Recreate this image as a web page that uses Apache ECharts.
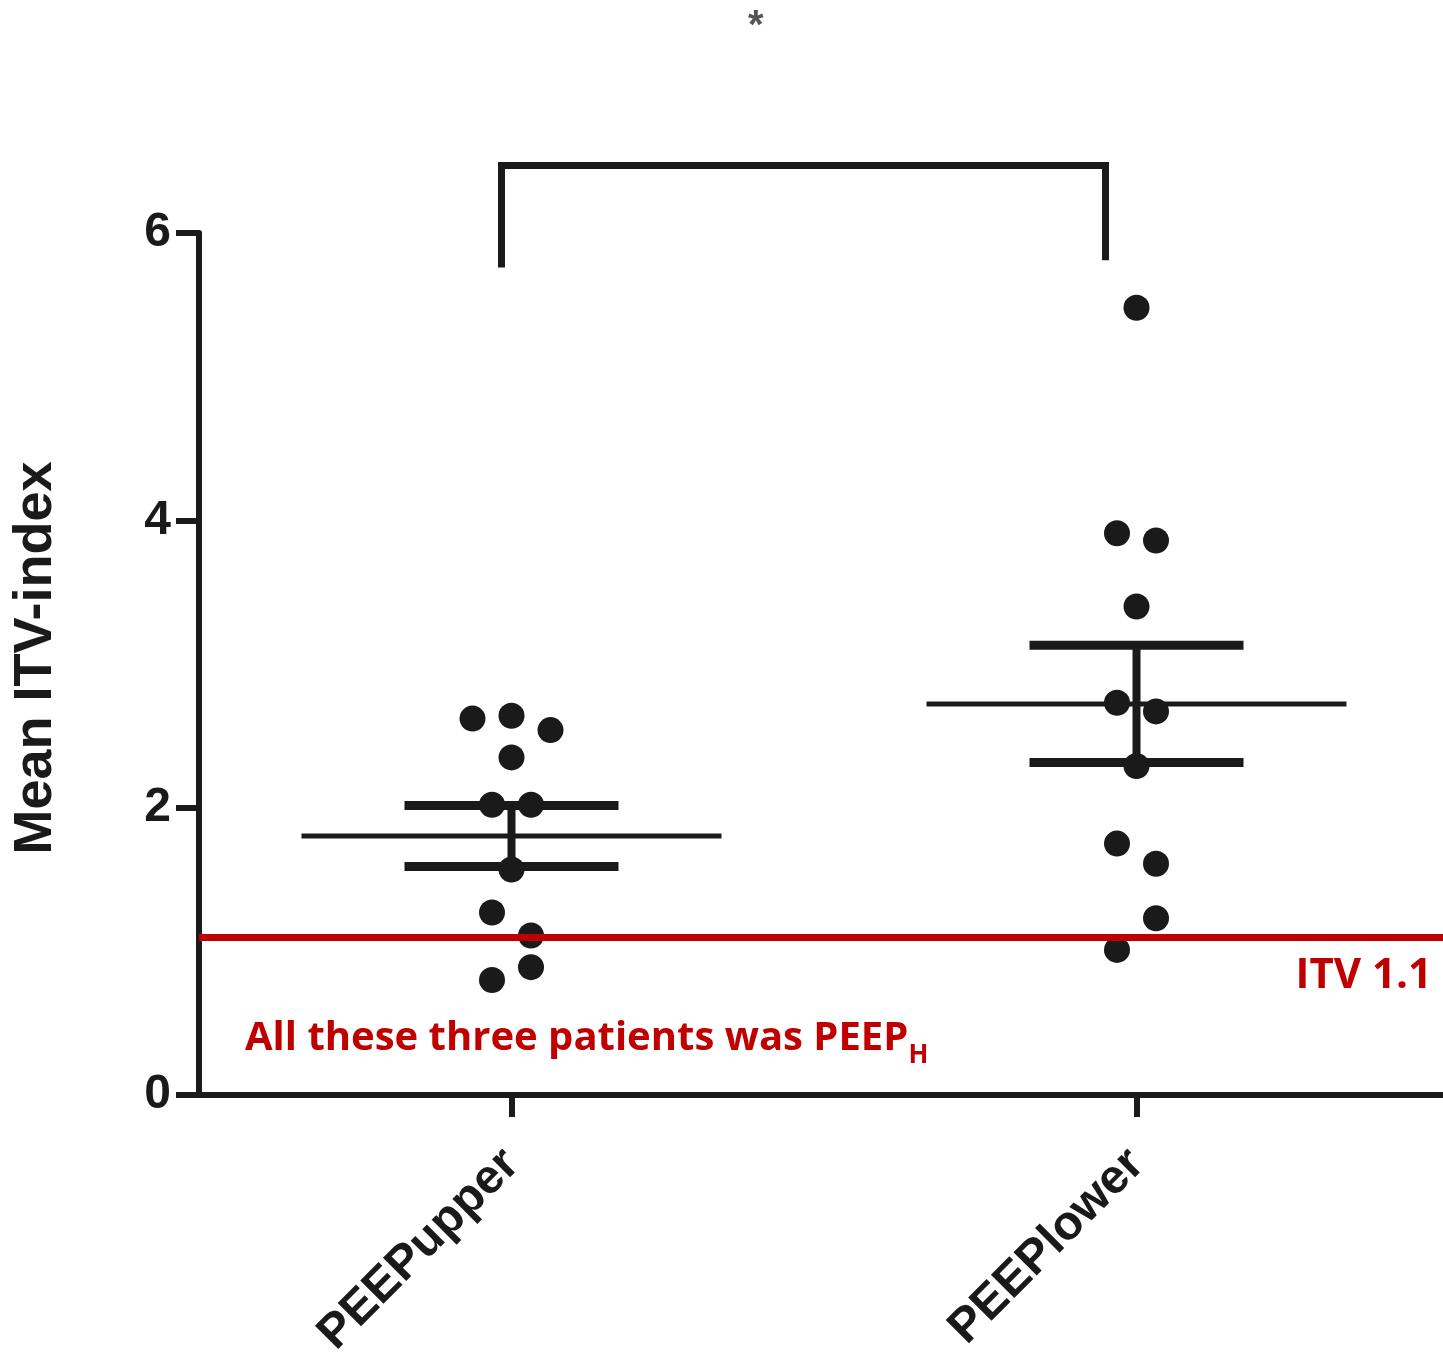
<!DOCTYPE html>
<html>
<head>
<meta charset="utf-8">
<script src="https://cdn.jsdelivr.net/npm/echarts@6/dist/echarts.min.js"></script>
<style>
  html, body { margin: 0; padding: 0; background: #ffffff; }
  #chart { width: 1443px; height: 1355px; }
</style>
</head>
<body>
<div id="chart"></div>
<script>
// Groups on the x axis
const categories = ['PEEPupper', 'PEEPlower'];

// Mean ITV-index per patient, PEEPupper group
const upperValues = [2.62, 2.64, 2.54, 2.35, 2.02, 2.02, 1.57, 1.27, 1.11, 0.89, 0.80];
// column slot of each dot inside the scatter column (-2 .. 2)
const upperSlots = [-2, 0, 2, 0, -1, 1, 0, -1, 1, 1, -1];

// Mean ITV-index per patient, PEEPlower group
const lowerValues = [5.48, 3.91, 3.86, 3.40, 2.73, 2.67, 2.29, 1.75, 1.61, 1.23, 1.01];
const lowerSlots = [0, -1, 1, 0, -1, 1, 0, -1, 1, 1, -1];

// y axis ticks
const yTicks = [0, 2, 4, 6];

// ITV threshold line
const thresholdITV = 1.1;

// significance bracket: level of the bar and the foot of each leg
const bracketLevel = 6.47;
const bracketFeet = [5.76, 5.81];

// ---- styling / layout constants ----
const INK = '#1a1a1a';
const RED = '#c00000';
const SLOT_SPACING = 19.5;
const MEAN_HALF = 210;
const SEM_HALF = 107;

function meanSem(arr) {
  const n = arr.length;
  const mean = arr.reduce((a, b) => a + b, 0) / n;
  const sd = Math.sqrt(arr.reduce((a, b) => a + (b - mean) * (b - mean), 0) / (n - 1));
  return [mean, sd / Math.sqrt(n)];
}

const groups = [
  { values: upperValues, slots: upperSlots },
  { values: lowerValues, slots: lowerSlots }
];

const scatterData = [];
const summaryData = [];
groups.forEach((g, ci) => {
  g.values.forEach((v, i) => {
    scatterData.push({ value: [ci, v], symbolOffset: [g.slots[i] * SLOT_SPACING, 0] });
  });
  const [m, s] = meanSem(g.values);
  summaryData.push([ci, m, s]);
});

const chart = echarts.init(document.getElementById('chart'), null, { renderer: 'canvas' });

const option = {
  backgroundColor: '#ffffff',
  animation: false,
  grid: {
    left: 199, right: -6, top: 233, bottom: 260,
    containLabel: false,
    outerBoundsMode: 'none'
  },
  xAxis: {
    type: 'category',
    data: categories,
    boundaryGap: true,
    axisLine: { show: true, lineStyle: { color: INK, width: 6 } },
    axisTick: { show: true, alignWithLabel: true, length: 22, lineStyle: { color: INK, width: 6 } },
    axisLabel: {
      rotate: 45,
      margin: 62,
      color: INK,
      fontFamily: 'Liberation Sans, Arial, sans-serif',
      fontWeight: 'bold',
      fontSize: 48
    },
    splitLine: { show: false }
  },
  yAxis: {
    type: 'value',
    min: yTicks[0],
    max: yTicks[yTicks.length - 1],
    interval: yTicks[1] - yTicks[0],
    name: 'Mean ITV-index',
    nameLocation: 'middle',
    nameGap: 136,
    nameRotate: 90,
    nameTextStyle: {
      color: INK,
      fontFamily: 'Liberation Sans, Arial, sans-serif',
      fontWeight: 'bold',
      fontSize: 54,
      padding: [0, 0, 0, 12]
    },
    axisLine: { show: true, lineStyle: { color: INK, width: 6 } },
    axisTick: { show: true, length: 23, lineStyle: { color: INK, width: 6 } },
    axisLabel: {
      margin: 28,
      color: INK,
      fontFamily: 'Liberation Sans, Arial, sans-serif',
      fontWeight: 'bold',
      fontSize: 48
    },
    splitLine: { show: false }
  },
  series: [
    {
      // mean and SEM bars
      type: 'custom',
      z: 3,
      clip: false,
      encode: { x: 0, y: 1 },
      data: summaryData,
      renderItem: function (params, api) {
        const c = api.value(0), m = api.value(1), s = api.value(2);
        const pm = api.coord([c, m]);
        const ph = api.coord([c, m + s]);
        const pl = api.coord([c, m - s]);
        const x = pm[0];
        return {
          type: 'group',
          children: [
            { type: 'line', shape: { x1: x - MEAN_HALF, y1: pm[1], x2: x + MEAN_HALF, y2: pm[1] },
              style: { stroke: INK, lineWidth: 5 } },
            { type: 'line', shape: { x1: x - SEM_HALF, y1: ph[1], x2: x + SEM_HALF, y2: ph[1] },
              style: { stroke: INK, lineWidth: 9 } },
            { type: 'line', shape: { x1: x - SEM_HALF, y1: pl[1], x2: x + SEM_HALF, y2: pl[1] },
              style: { stroke: INK, lineWidth: 9 } },
            { type: 'line', shape: { x1: x, y1: ph[1], x2: x, y2: pl[1] },
              style: { stroke: INK, lineWidth: 8 } }
          ]
        };
      }
    },
    {
      // significance bracket between the two groups
      type: 'custom',
      z: 3,
      clip: false,
      encode: { x: 0, y: 1 },
      data: [[0, bracketLevel]],
      renderItem: function (params, api) {
        const topL = api.coord([0, bracketLevel]);
        const topR = api.coord([1, bracketLevel]);
        const footL = api.coord([0, bracketFeet[0]]);
        const footR = api.coord([1, bracketFeet[1]]);
        const xl = topL[0] - 10, xr = topR[0] - 31;
        return {
          type: 'polyline',
          shape: { points: [[xl, footL[1]], [xl, topL[1]], [xr, topR[1]], [xr, footR[1]]] },
          style: { stroke: INK, lineWidth: 7, fill: null, lineJoin: 'miter', lineCap: 'butt' }
        };
      }
    },
    {
      type: 'scatter',
      z: 4,
      symbol: 'circle',
      symbolSize: 26,
      itemStyle: { color: INK, opacity: 1 },
      data: scatterData,
      markLine: {
        silent: true,
        symbol: ['none', 'none'],
        lineStyle: { color: RED, width: 7, type: 'solid', opacity: 1 },
        label: {
          show: true,
          position: 'insideEndBottom',
          distance: [17, 18],
          formatter: 'ITV ' + thresholdITV,
          color: RED,
          fontFamily: 'Open Sans, sans-serif',
          fontWeight: 'bold',
          fontSize: 42
        },
        data: [{ yAxis: thresholdITV }]
      }
    }
  ],
  graphic: [
    {
      type: 'text',
      left: 245,
      top: 1019,
      z: 10,
      style: {
        text: '{m|All these three patients was PEEP}{s|H}',
        rich: {
          m: { fontFamily: 'Open Sans, sans-serif', fontWeight: 'bold', fontSize: 40, fill: RED,
               lineHeight: 40, verticalAlign: 'top' },
          s: { fontFamily: 'Open Sans, sans-serif', fontWeight: 'bold', fontSize: 26, fill: RED,
               lineHeight: 50, verticalAlign: 'bottom' }
        }
      }
    },
    {
      type: 'text',
      left: 748,
      top: 7,
      z: 10,
      style: {
        text: '*',
        fontFamily: 'Liberation Sans, Arial, sans-serif',
        fontSize: 40,
        fontWeight: 'bold',
        fill: '#555555'
      }
    }
  ]
};

chart.setOption(option);
</script>
</body>
</html>
